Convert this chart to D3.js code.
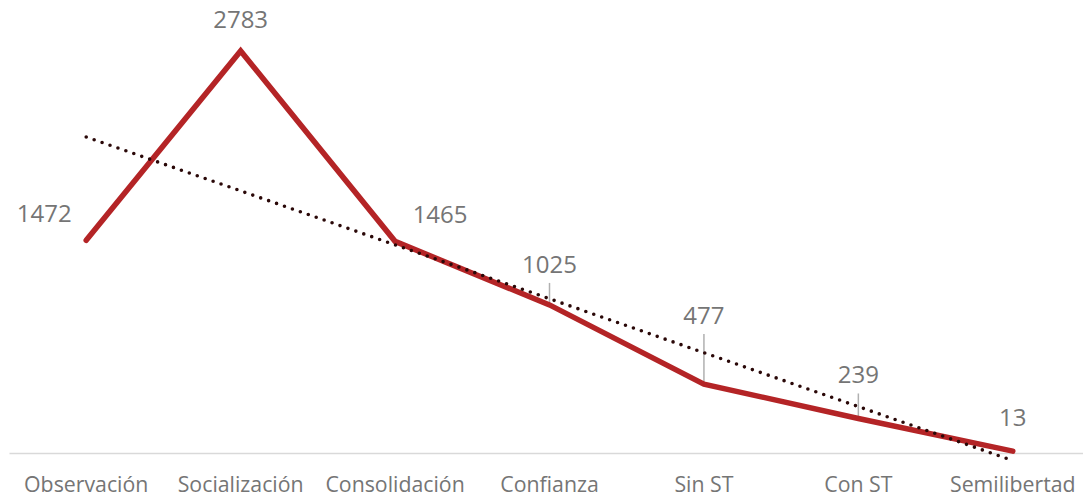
<!DOCTYPE html>
<html>
<head>
<meta charset="utf-8">
<script src="https://cdn.jsdelivr.net/npm/d3@7"></script>
<style>
  html, body { margin: 0; padding: 0; background: #ffffff; }
  svg { display: block; }
</style>
</head>
<body>
<svg id="chart" width="1083" height="500"></svg>
<script>
// ---- Data ----
const categories = ["Observación", "Socialización", "Consolidación", "Confianza", "Sin ST", "Con ST", "Semilibertad"];
const values = [1472, 2783, 1465, 1025, 477, 239, 13];

// ---- Layout / style (kept separate from data) ----
const labelDx = [-42, 0, 45, 0, 0, 0, 0];
const labelDy = [-18, -23, -18, -32, -60, -35, -25];
const hasLeader = [false, false, false, true, true, true, false];

const W = 1083, H = 500;
const svg = d3.select("#chart");

const x = d3.scaleBand().domain(categories).range([9, 1090]).padding(0);
const y = d3.scaleLinear().domain([0, 3000]).range([453, 19.6]);
const cx = c => x(c) + x.bandwidth() / 2;

const textColor = "#757575";
const font = "'Open Sans', sans-serif";

// Axis
const xAxis = d3.axisBottom(x).tickSize(0).tickPadding(0);
const gx = svg.append("g").attr("transform", `translate(0,${y(0)})`).call(xAxis);
gx.select(".domain").attr("stroke", "#d9d9d9").attr("stroke-width", 1.5);
gx.selectAll(".tick text")
  .attr("y", 39)
  .attr("dy", 0)
  .attr("fill", textColor)
  .style("font-family", font)
  .style("font-size", "21.3px");

// Leader lines
const pts = categories.map((c, i) => ({ c, v: values[i], i }));
svg.append("g").selectAll("line")
  .data(pts.filter(d => hasLeader[d.i]))
  .join("line")
  .attr("x1", d => cx(d.c))
  .attr("x2", d => cx(d.c))
  .attr("y1", d => y(d.v) + labelDy[d.i] + 10)
  .attr("y2", d => y(d.v))
  .attr("stroke", "#b0b0b0")
  .attr("stroke-width", 1.5);

// Main line
const line = d3.line().x(d => cx(d.c)).y(d => y(d.v));
svg.append("path")
  .datum(pts)
  .attr("d", line)
  .attr("fill", "none")
  .attr("stroke", "#b42426")
  .attr("stroke-width", 5.5)
  .attr("stroke-linejoin", "miter")
  .attr("stroke-linecap", "round");

// Linear trend line (least squares on category index)
const n = values.length;
const mx = d3.mean(d3.range(n));
const my = d3.mean(values);
const slope = d3.sum(values.map((v, i) => (i - mx) * (v - my))) / d3.sum(d3.range(n).map(i => (i - mx) ** 2));
const intercept = my - slope * mx;
const trend = [0, n - 1].map(i => ({ c: categories[i], v: intercept + slope * i }));
svg.append("path")
  .datum(trend)
  .attr("d", line)
  .attr("fill", "none")
  .attr("stroke", "#2a0808")
  .attr("stroke-width", 3.6)
  .attr("stroke-linecap", "round")
  .attr("stroke-dasharray", "0 8.4");

// Data labels
svg.append("g").selectAll("text")
  .data(pts)
  .join("text")
  .attr("x", d => cx(d.c) + labelDx[d.i])
  .attr("y", d => y(d.v) + labelDy[d.i])
  .attr("text-anchor", "middle")
  .attr("fill", textColor)
  .style("font-family", font)
  .style("font-size", "24px")
  .text(d => d.v);
</script>
</body>
</html>
